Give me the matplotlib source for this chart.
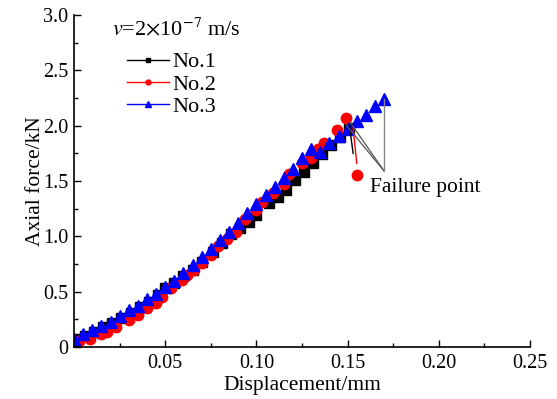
import matplotlib
matplotlib.use("Agg")
import matplotlib.pyplot as plt
from matplotlib.lines import Line2D
from matplotlib.ticker import MultipleLocator

plt.rcParams["font.family"] = ["Liberation Serif", "DejaVu Serif"]
plt.rcParams["mathtext.fontset"] = "stix"

# ------------------------------------------------------------
# Data (displacement mm, axial force kN)
# ------------------------------------------------------------
x_no1 = [0.002, 0.006, 0.011, 0.016, 0.021, 0.026, 0.031, 0.036, 0.041, 0.046,
         0.050, 0.055, 0.060, 0.065, 0.070, 0.076, 0.081, 0.086, 0.091, 0.096,
         0.100, 0.107, 0.112, 0.116, 0.121, 0.126, 0.131, 0.136, 0.141, 0.146,
         0.151]
y_no1 = [0.07, 0.10, 0.14, 0.18, 0.22, 0.26, 0.31, 0.36, 0.41, 0.47,
         0.53, 0.58, 0.64, 0.70, 0.77, 0.86, 0.94, 1.02, 1.08, 1.13,
         1.19, 1.30, 1.36, 1.42, 1.51, 1.58, 1.66, 1.74, 1.83, 1.90,
         1.98]

x_no2 = [0.003, 0.009, 0.015, 0.018, 0.023, 0.030, 0.035, 0.040, 0.045, 0.048,
         0.053, 0.059, 0.062, 0.066, 0.070, 0.075, 0.079, 0.084, 0.089, 0.094,
         0.100, 0.103, 0.109, 0.115, 0.118, 0.125, 0.130, 0.134, 0.137, 0.144,
         0.149, 0.155]
y_no2 = [0.05, 0.07, 0.12, 0.14, 0.18, 0.24, 0.29, 0.35, 0.40, 0.45,
         0.53, 0.61, 0.65, 0.70, 0.76, 0.83, 0.91, 0.98, 1.04, 1.16,
         1.24, 1.31, 1.39, 1.47, 1.56, 1.66, 1.71, 1.79, 1.84, 1.96,
         2.07, 1.55]

x_no3 = [0.000, 0.005, 0.010, 0.015, 0.020, 0.025, 0.030, 0.035, 0.040, 0.045,
         0.050, 0.055, 0.060, 0.065, 0.070, 0.075, 0.080, 0.085, 0.090, 0.095,
         0.100, 0.105, 0.110, 0.115, 0.120, 0.125, 0.130, 0.135, 0.140, 0.145,
         0.150, 0.155, 0.160, 0.165, 0.170]
y_no3 = [0.07, 0.12, 0.15, 0.19, 0.23, 0.28, 0.33, 0.37, 0.43, 0.48,
         0.54, 0.60, 0.67, 0.74, 0.81, 0.89, 0.97, 1.04, 1.12, 1.21,
         1.29, 1.37, 1.45, 1.53, 1.61, 1.71, 1.79, 1.76, 1.84, 1.91,
         1.97, 2.04, 2.10, 2.18, 2.24]

y_ticks = [0, 0.5, 1.0, 1.5, 2.0, 2.5, 3.0]
y_tick_labels = ["0", "0.5", "1.0", "1.5", "2.0", "2.5", "3.0"]
x_ticks = [0, 0.05, 0.10, 0.15, 0.20, 0.25]
x_tick_labels = ["", "0.05", "0.10", "0.15", "0.20", "0.25"]

# ------------------------------------------------------------
# Figure
# ------------------------------------------------------------
fig = plt.figure(figsize=(5.57, 3.99), dpi=100)
ax = fig.add_axes([0.1329, 0.1303, 0.8187, 0.832])

ax.plot(x_no1, y_no1, ls="none", marker="s", ms=6.5, color="black")
ax.plot(x_no2, y_no2, ls="none", marker="o", ms=7.5, color="#ff0000")
ax.plot(x_no3, y_no3, ls="none", marker="^", ms=8, color="#0000ff")

# failure point pointers
ax.plot([0.151, 0.153], [2.00, 1.75], color="black", lw=1)
ax.plot([0.153, 0.155], [1.98, 1.66], color="#ff0000", lw=1)
ax.plot([0.170, 0.151], [1.59, 2.04], color="#555555", lw=0.9)
ax.plot([0.170, 0.149], [1.59, 2.01], color="#555555", lw=0.9)
ax.plot([0.170, 0.170], [1.59, 2.24], color="#888888", lw=1)
ax.text(0.162, 1.44, "Failure point", fontsize=15.5, va="center", ha="left")

ax.set_xlim(0, 0.25)
ax.set_ylim(0, 3.0)
ax.set_xticks(x_ticks)
ax.set_xticklabels(x_tick_labels)
ax.set_yticks(y_ticks)
ax.set_yticklabels(y_tick_labels)
ax.xaxis.set_minor_locator(MultipleLocator(0.025))
ax.yaxis.set_minor_locator(MultipleLocator(0.25))
ax.tick_params(which="both", direction="in", labelsize=14.5)
ax.tick_params(which="major", length=5, width=1)
ax.tick_params(which="minor", length=3, width=1)
ax.tick_params(axis="x", pad=5)
ax.tick_params(axis="y", pad=4)

for s in ["top", "right"]:
    ax.spines[s].set_visible(False)
for s in ["left", "bottom"]:
    ax.spines[s].set_linewidth(1.2)

ax.set_xlabel("Displacement/mm", fontsize=15.5, labelpad=2)
ax.set_ylabel("Axial force/kN", fontsize=15.5, labelpad=-1)

ax.text(0.083, 0.958, r"$v$=2$\times$10$^{-7}$ m/s", transform=ax.transAxes,
        fontsize=16, va="center", ha="left")

handles = [
    Line2D([], [], color="black", marker="s", ms=3.5, lw=1),
    Line2D([], [], color="#ff0000", marker="o", ms=3.5, lw=1),
    Line2D([], [], color="#0000ff", marker="^", ms=4, lw=1),
]
ax.legend(handles, ["No.1", "No.2", "No.3"], loc="upper left",
          bbox_to_anchor=(0.116, 0.889), frameon=False, fontsize=16,
          handlelength=1.9, handletextpad=0.15, labelspacing=0.08,
          borderaxespad=0, borderpad=0)

fig.savefig("out.png", dpi=100)
